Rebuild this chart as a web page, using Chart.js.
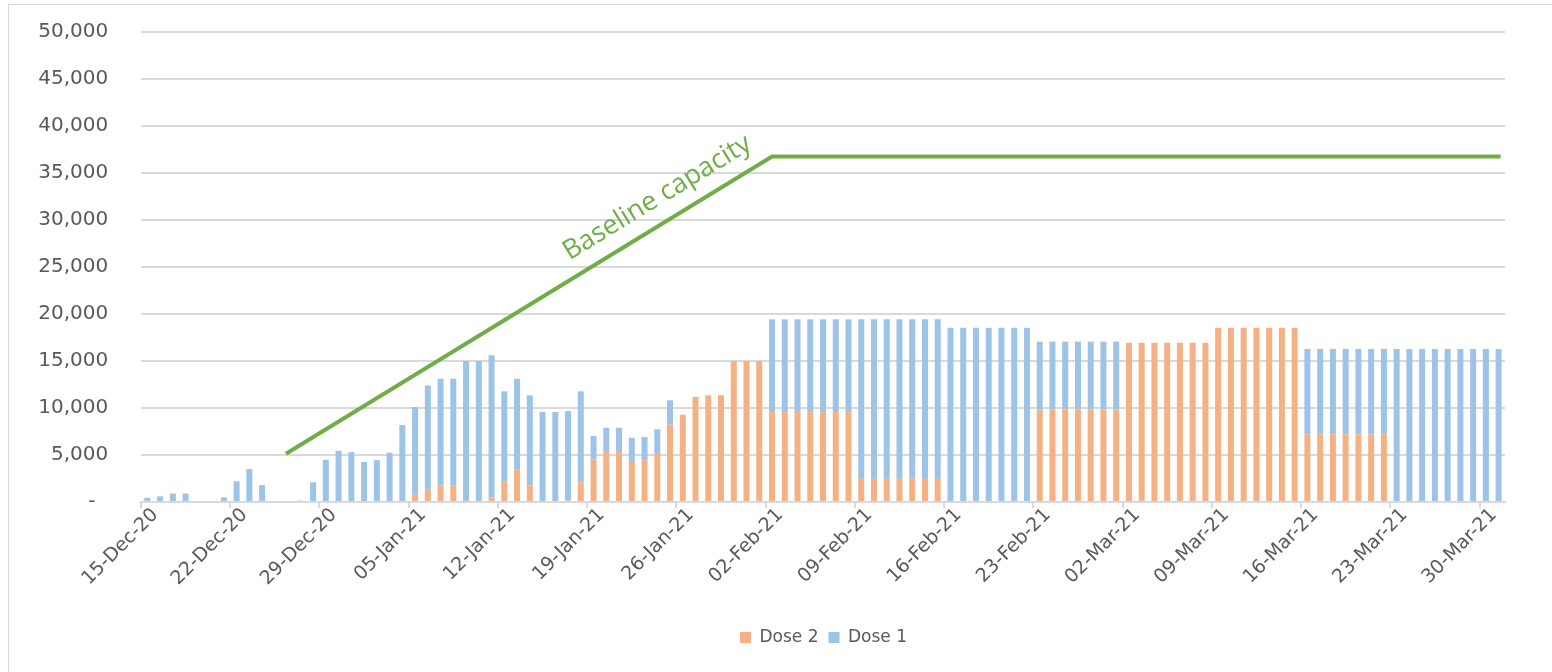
<!DOCTYPE html>
<html>
<head>
<meta charset="utf-8">
<script src="https://cdn.jsdelivr.net/npm/chart.js@4.4.0/dist/chart.umd.min.js"></script>
<style>
  html, body { margin: 0; padding: 0; background: #fff; }
  #wrap { position: relative; width: 1552px; height: 672px; overflow: hidden; }
  #frame { position: absolute; left: 8px; top: 4px; width: 1600px; height: 700px; border: 1px solid #d9d9d9; pointer-events: none; }
  canvas { position: absolute; left: 0; top: 0; }
</style>
</head>
<body>
<div id="wrap">
  <div id="frame"></div>
  <canvas id="chart" width="1552" height="672"></canvas>
</div>
<script>
// daily categories, 15-Dec-20 .. 31-Mar-21
const firstDay = Date.UTC(2020, 11, 15);
const dayCount = 107;
const monthNames = ['Jan', 'Feb', 'Mar', 'Apr', 'May', 'Jun', 'Jul', 'Aug', 'Sep', 'Oct', 'Nov', 'Dec'];
const days = [];
for (let i = 0; i < dayCount; i++) {
    const d = new Date(firstDay + i * 86400000);
    days.push(String(d.getUTCDate()).padStart(2, '0') + '-' + monthNames[d.getUTCMonth()] + '-' + String(d.getUTCFullYear()).slice(2));
}

// doses per day
const dose2 = [
    0, 0, 0, 0, 0, 0, 0,
    0, 0, 0, 0, 0, 0, 0,
    0, 0, 0, 0, 0, 0, 0,
    800, 1300, 1770, 1770, 0, 0, 500,
    2200, 3440, 1770, 0, 0, 150, 2100,
    4540, 5430, 5320, 4260, 4430, 5210, 8230,
    9290, 11170, 11350, 11350, 15000, 15000, 15000,
    9570, 9570, 9570, 9570, 9570, 9570, 9570,
    2480, 2480, 2480, 2480, 2480, 2480, 2480,
    0, 0, 0, 0, 0, 0, 0,
    9860, 9860, 9860, 9860, 9860, 9860, 9860,
    16950, 16950, 16950, 16950, 16950, 16950, 16950,
    18550, 18550, 18550, 18550, 18550, 18550, 18550,
    7200, 7200, 7200, 7200, 7200, 7200, 7200,
    0, 0, 0, 0, 0, 0, 0, 0, 0
];
const dose1 = [
    450, 600, 900, 900, 0, 0, 500,
    2200, 3500, 1800, 0, 0, 150, 2100,
    4500, 5450, 5300, 4250, 4450, 5250, 8200,
    9300, 11100, 11350, 11350, 15000, 15000, 15100,
    9570, 9670, 9580, 9570, 9570, 9530, 9670,
    2480, 2470, 2580, 2580, 2480, 2520, 2590,
    0, 0, 0, 0, 0, 0, 0,
    9860, 9860, 9860, 9860, 9860, 9860, 9860,
    16950, 16950, 16950, 16950, 16950, 16950, 16950,
    18550, 18550, 18550, 18550, 18550, 18550, 18550,
    7200, 7200, 7200, 7200, 7200, 7200, 7200,
    0, 0, 0, 0, 0, 0, 0,
    0, 0, 0, 0, 0, 0, 0,
    9080, 9080, 9080, 9080, 9080, 9080, 9080,
    16280, 16280, 16280, 16280, 16280, 16280, 16280, 16280, 16280
];

// baseline capacity line: corner points
const capDates = ['26-Dec-20', '02-Feb-21', '31-Mar-21'];
const capValues = [5250, 36750, 36750];
const capLabel = 'Baseline capacity';

const yTicks = [0, 5000, 10000, 15000, 20000, 25000, 30000, 35000, 40000, 45000, 50000];

const tickColor = '#595959';
const gridColor = '#d9d9d9';
const green = '#70ad47';

// text along the rising part of the line
const capacityLabel = {
    id: 'capacityLabel',
    afterDatasetsDraw(chart) {
        const xs = chart.scales.x, ys = chart.scales.y;
        const x1 = xs.getPixelForValue(days.indexOf(capDates[0]));
        const y1 = ys.getPixelForValue(capValues[0]);
        const x2 = xs.getPixelForValue(days.indexOf(capDates[1]));
        const y2 = ys.getPixelForValue(capValues[1]);
        const a = Math.atan2(y2 - y1, x2 - x1);
        const t = 0.6;
        const px = x1 + (x2 - x1) * t + Math.sin(a) * 17;
        const py = y1 + (y2 - y1) * t - Math.cos(a) * 17;
        const ctx = chart.ctx;
        ctx.save();
        ctx.translate(px, py);
        ctx.rotate(a);
        ctx.font = '27px "Open Sans"';
        ctx.fillStyle = green;
        ctx.textAlign = 'left';
        ctx.textBaseline = 'alphabetic';
        ctx.fillText(capLabel, 0, 0);
        ctx.restore();
    }
};

// nudge the legend to where the original sits
const legendShift = {
    id: 'legendShift',
    afterLayout(chart) {
        const lg = chart.legend;
        if (lg) {
            lg.left += 71;
            lg.right += 71;
            if (lg.legendHitBoxes) lg.legendHitBoxes.forEach(b => { b.left += 71; });
        }
    }
};

new Chart(document.getElementById('chart'), {
    type: 'bar',
    data: {
        labels: days,
        datasets: [
            {
                label: 'Dose 2',
                data: dose2,
                backgroundColor: '#f4b183',
                barPercentage: 0.47,
                categoryPercentage: 1,
                order: 1
            },
            {
                label: 'Dose 1',
                data: dose1,
                backgroundColor: '#9dc3e6',
                barPercentage: 0.47,
                categoryPercentage: 1,
                order: 1
            },
            {
                type: 'line',
                label: capLabel,
                data: capDates.map((d, i) => ({ x: d, y: capValues[i] })),
                borderColor: green,
                borderWidth: 4,
                borderCapStyle: 'square',
                pointRadius: 0,
                fill: false,
                tension: 0,
                stack: 'cap',
                order: 0
            }
        ]
    },
    options: {
        responsive: false,
        devicePixelRatio: 1,
        animation: false,
        layout: {
            padding: { left: 0, right: 47, top: 32, bottom: 16 }
        },
        plugins: {
            legend: {
                position: 'bottom',
                labels: {
                    filter: item => item.datasetIndex !== 2,
                    boxWidth: 11,
                    boxHeight: 11,
                    padding: 10,
                    color: tickColor,
                    font: { family: 'DejaVu Sans', size: 17 }
                }
            },
            tooltip: { enabled: false }
        },
        scales: {
            x: {
                stacked: true,
                offset: true,
                grid: {
                    offset: true,
                    drawOnChartArea: false,
                    drawTicks: true,
                    tickLength: 6,
                    color: ctx => (ctx.index % 7 === 0 ? gridColor : 'rgba(0,0,0,0)'),
                    lineWidth: 2
                },
                border: { color: gridColor, width: 2 },
                ticks: {
                    autoSkip: false,
                    minRotation: 45,
                    maxRotation: 45,
                    labelOffset: 8,
                    padding: -4,
                    color: tickColor,
                    font: { family: 'DejaVu Sans', size: 19 },
                    callback: function (value, index) {
                        return index % 7 === 0 ? this.getLabelForValue(value) : '';
                    }
                },
                afterFit: scale => { scale.height = 117; }
            },
            y: {
                stacked: true,
                min: 0,
                max: 50000,
                afterBuildTicks: scale => { scale.ticks = yTicks.map(v => ({ value: v })); },
                grid: { color: gridColor, lineWidth: 2, drawTicks: false },
                border: { display: false },
                ticks: {
                    padding: 20,
                    color: tickColor,
                    font: { family: 'DejaVu Sans', size: 20 },
                    // trailing spaces keep the accounting-style gap before the plot
                    callback: v => (v === 0 ? '-    ' : v.toLocaleString('en-US') + '  ')
                },
                afterFit: scale => { scale.width = 141; }
            }
        }
    },
    plugins: [capacityLabel, legendShift]
});
</script>
</body>
</html>
